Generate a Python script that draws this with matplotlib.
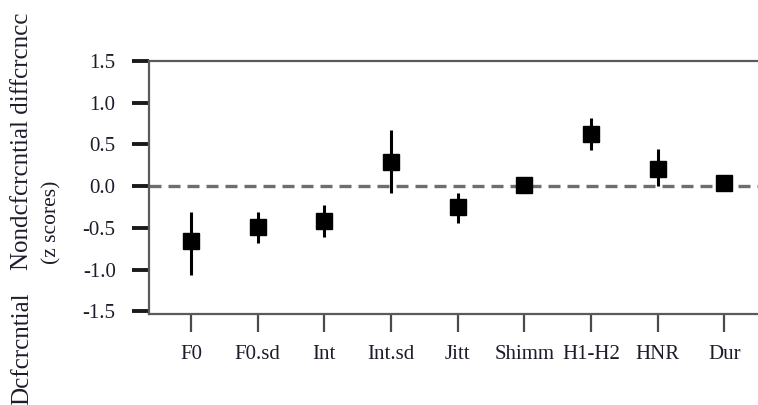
import matplotlib
matplotlib.use('Agg')
import matplotlib.pyplot as plt
import numpy as np

# Data
labels = ['F0', 'F0.sd', 'Int', 'Int.sd', 'Jitt', 'Shimm', 'H1-H2', 'HNR', 'Dur']
means = [-0.65, -0.49, -0.42, 0.29, -0.25, 0.01, 0.62, 0.21, 0.04]
lower = [-1.06, -0.68, -0.61, -0.08, -0.44, -0.03, 0.43, 0.00, 0.00]
upper = [-0.31, -0.31, -0.23, 0.67, -0.08, 0.05, 0.82, 0.45, 0.08]
yticks = [-1.5, -1.0, -0.5, 0.0, 0.5, 1.0, 1.5]

plt.rcParams['font.family'] = ['Liberation Serif', 'DejaVu Serif']
txt_color = '#1c1c2c'
spine_color = '#5a5a5a'

fig = plt.figure(figsize=(7.58, 4.05), dpi=100)
ax = fig.add_axes([149 / 758, 1 - 314 / 405, 1 - 149 / 758 + 0.01, (314 - 61) / 405])

x = np.arange(len(labels))
means = np.array(means)
yerr = np.array([means - np.array(lower), np.array(upper) - means])

ax.axhline(0, color='#6e6e6e', lw=2.4, linestyle=(0, (3.6, 2.1)), zorder=1)
ax.errorbar(x, means, yerr=yerr, fmt='s', color='black', ecolor='black',
            elinewidth=2.2, capsize=0, markersize=11.5, zorder=3)

ax.set_xlim(-0.63, 8.62)
ax.set_ylim(-1.53, 1.5)
ax.set_xticks(x)
ax.set_xticklabels(labels, fontsize=15, color=txt_color)
ax.set_yticks(yticks)
ax.set_yticklabels([f'{v:.1f}' for v in yticks], fontsize=15, color=txt_color)

ax.tick_params(axis='y', direction='out', length=12, width=2.8, color='#1a1a1a', pad=12)
ax.tick_params(axis='x', direction='out', length=13, width=1.6, color='#4a4a4a', pad=9)

ax.spines['right'].set_visible(False)
for s in ['left', 'top', 'bottom']:
    ax.spines[s].set_color(spine_color)
    ax.spines[s].set_linewidth(1.6)

# Y axis label (two lines, placed by hand like the original)
fig.text(22 / 758, 1 - 13 / 405, 'Nondcfcrcntial diffcrcncc', rotation=90,
         ha='center', va='top', fontsize=18, color=txt_color)
fig.text(22 / 758, 0.0, 'Dcfcrcntial', rotation=90,
         ha='center', va='bottom', fontsize=18, color=txt_color)
fig.text(52 / 758, 1 - 222 / 405, '(z scores)', rotation=90,
         ha='center', va='center', fontsize=15.5, color=txt_color)

fig.savefig('out.png', dpi=100)
